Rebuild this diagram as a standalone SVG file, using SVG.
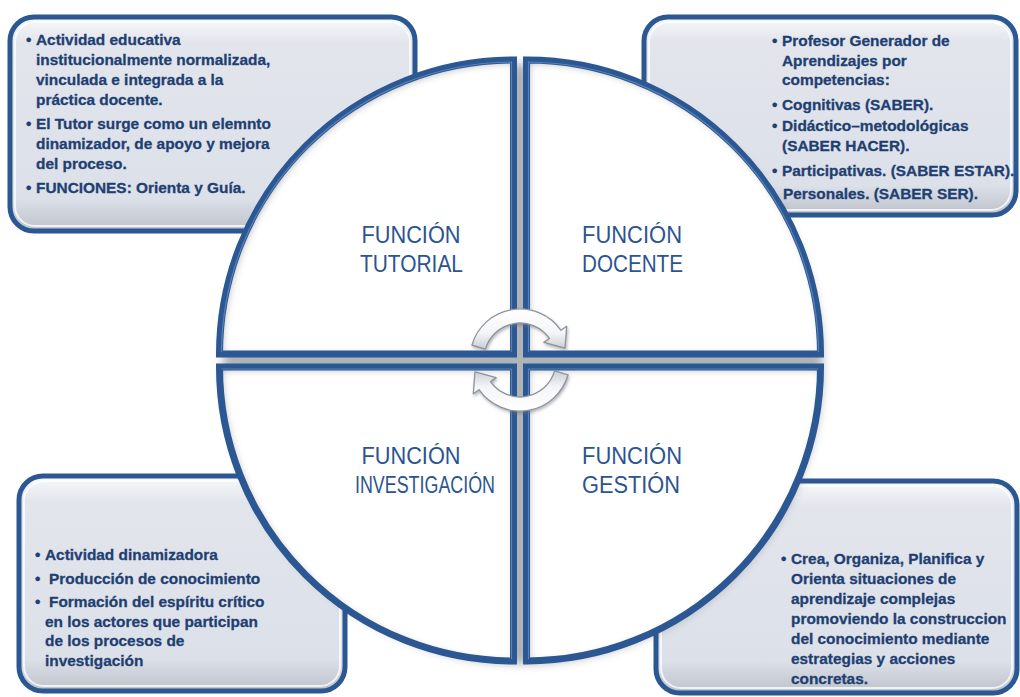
<svg xmlns="http://www.w3.org/2000/svg" width="1020" height="697" viewBox="0 0 1020 697">
<style>
.box{stroke:#2b5793;stroke-width:5;fill:url(#boxg)}
.hl{fill:none;stroke:#ffffff;stroke-width:2;opacity:.75}
.bt{font-family:"Liberation Sans",Arial,sans-serif;font-weight:bold;font-size:15.4px;fill:#1f3f72;stroke:#1f3f72;stroke-width:0.3}
.tt{font-family:"Liberation Sans",Arial,sans-serif;font-size:23px;fill:#2b5490;text-anchor:middle}
.pie{fill:#ffffff}
.edge{fill:none;stroke:#2b5793;stroke-width:7;stroke-linejoin:miter}
.edgehl{fill:none;stroke:#6f93c4;stroke-width:1.2;opacity:.7}
.arr{fill:url(#arrg);stroke:#8c939c;stroke-width:1.3;stroke-linejoin:round}
</style>
<defs>
<linearGradient id="boxg" x1="0" y1="0" x2="0" y2="1">
<stop offset="0" stop-color="#f8f9fb"/>
<stop offset="0.12" stop-color="#e2e5ec"/>
<stop offset="0.85" stop-color="#dce0e8"/>
<stop offset="1" stop-color="#bcc1cb"/>
</linearGradient>
<linearGradient id="arrg" x1="0" y1="0" x2="0" y2="1">
<stop offset="0" stop-color="#ffffff"/>
<stop offset="0.6" stop-color="#f4f5f7"/>
<stop offset="1" stop-color="#c9cdd3"/>
</linearGradient>
<filter id="inner" x="-10%" y="-10%" width="120%" height="120%">
<feFlood flood-color="#8e8e8e" result="f"/>
<feComposite in="f" in2="SourceAlpha" operator="out" result="o"/>
<feGaussianBlur in="o" stdDeviation="4" result="b"/>
<feOffset in="b" dx="2" dy="2" result="bo"/>
<feComposite in="bo" in2="SourceAlpha" operator="in" result="ins"/>
<feMerge><feMergeNode in="SourceGraphic"/><feMergeNode in="ins"/></feMerge>
</filter>
<filter id="shadow" x="-10%" y="-10%" width="120%" height="120%">
<feGaussianBlur stdDeviation="5"/>
</filter>
<filter id="ashadow" x="-30%" y="-30%" width="160%" height="160%">
<feDropShadow dx="1" dy="2" stdDeviation="1.5" flood-color="#6a6f78" flood-opacity="0.5"/>
</filter>
</defs>

<rect x="0" y="0" width="1020" height="697" fill="#ffffff"/>

<g id="box-tutorial">
<rect class="box" x="10" y="17" width="405" height="214" rx="24"/>
<rect class="hl" x="15" y="22" width="395" height="204" rx="20"/>
<text class="bt" x="26" y="45">•</text>
<text class="bt" x="36" y="45">Actividad educativa</text>
<text class="bt" x="36" y="65">institucionalmente normalizada,</text>
<text class="bt" x="36" y="85">vinculada e integrada a la</text>
<text class="bt" x="36" y="104.5">práctica docente.</text>
<text class="bt" x="26" y="129">•</text>
<text class="bt" x="36" y="129">El Tutor surge como un elemnto</text>
<text class="bt" x="36" y="149">dinamizador, de apoyo y mejora</text>
<text class="bt" x="36" y="168.5">del proceso.</text>
<text class="bt" x="26" y="192.5">•</text>
<text class="bt" x="36" y="192.5">FUNCIONES: Orienta y Guía.</text>
</g>

<g id="box-docente">
<rect class="box" x="644" y="17" width="372" height="198" rx="24"/>
<rect class="hl" x="649" y="22" width="362" height="188" rx="20"/>
<text class="bt" x="772" y="45.5">•</text>
<text class="bt" x="782" y="45.5">Profesor Generador de</text>
<text class="bt" x="782" y="65.5">Aprendizajes por</text>
<text class="bt" x="782" y="85">competencias:</text>
<text class="bt" x="772" y="110">•</text>
<text class="bt" x="782" y="110">Cognitivas (SABER).</text>
<text class="bt" x="772" y="131">•</text>
<text class="bt" x="782" y="131">Didáctico–metodológicas</text>
<text class="bt" x="782" y="151">(SABER HACER).</text>
<text class="bt" x="772" y="175.5">•</text>
<text class="bt" x="782" y="175.5">Participativas. (SABER ESTAR).</text>
<text class="bt" x="783" y="199">Personales. (SABER SER).</text>
</g>

<g id="box-investigacion">
<rect class="box" x="19" y="476" width="326" height="215" rx="24"/>
<rect class="hl" x="24" y="481" width="316" height="205" rx="20"/>
<text class="bt" x="35" y="560">•</text>
<text class="bt" x="45" y="560">Actividad dinamizadora</text>
<text class="bt" x="35" y="583.5">•</text>
<text class="bt" x="49" y="583.5">Producción de conocimiento</text>
<text class="bt" x="35" y="607">•</text>
<text class="bt" x="49" y="607">Formación del espíritu crítico</text>
<text class="bt" x="45" y="627">en los actores que participan</text>
<text class="bt" x="45" y="646">de los procesos de</text>
<text class="bt" x="45" y="665.5">investigación</text>
</g>

<g id="box-gestion">
<rect class="box" x="656" y="481" width="361" height="212" rx="24"/>
<rect class="hl" x="661" y="486" width="351" height="202" rx="20"/>
<text class="bt" x="781" y="563.5">•</text>
<text class="bt" x="791" y="563.5">Crea, Organiza, Planifica y</text>
<text class="bt" x="791" y="583.5">Orienta situaciones de</text>
<text class="bt" x="791" y="603.5">aprendizaje complejas</text>
<text class="bt" x="791" y="623.5">promoviendo la construccion</text>
<text class="bt" x="791" y="643.5">del conocimiento mediante</text>
<text class="bt" x="791" y="663.5">estrategias y acciones</text>
<text class="bt" x="791" y="683.5">concretas.</text>
</g>

<circle cx="523" cy="364" r="300" fill="#555a62" opacity="0.45" filter="url(#shadow)"/>

<g id="q-tutorial">
<path class="pie" filter="url(#inner)" d="M513.5 354 L513.5 60 A294 294 0 0 0 219.5 354 Z"/>
<path class="edge" d="M513.5 354 L513.5 60 A294 294 0 0 0 219.5 354 Z"/>
<path class="edgehl" d="M511.5 352 L511.5 62 A292 292 0 0 0 221.5 352"/>
<text class="tt" x="411" y="243" textLength="99" lengthAdjust="spacingAndGlyphs">FUNCIÓN</text>
<text class="tt" x="411.5" y="272" textLength="103" lengthAdjust="spacingAndGlyphs">TUTORIAL</text>
</g>

<g id="q-docente">
<path class="pie" filter="url(#inner)" d="M526.5 354 L526.5 60 A294 294 0 0 1 820.5 354 Z"/>
<path class="edge" d="M526.5 354 L526.5 60 A294 294 0 0 1 820.5 354 Z"/>
<path class="edgehl" d="M528.5 352 L528.5 62 A292 292 0 0 1 818.5 352"/>
<text class="tt" x="632" y="243" textLength="100" lengthAdjust="spacingAndGlyphs">FUNCIÓN</text>
<text class="tt" x="632.5" y="272" textLength="101" lengthAdjust="spacingAndGlyphs">DOCENTE</text>
</g>

<g id="q-investigacion">
<path class="pie" filter="url(#inner)" d="M513.5 367 L219.5 367 A294 294 0 0 0 513.5 661 Z"/>
<path class="edge" d="M513.5 367 L219.5 367 A294 294 0 0 0 513.5 661 Z"/>
<path class="edgehl" d="M221.5 369 L511.5 369 L511.5 659"/>
<text class="tt" x="411" y="464" textLength="99" lengthAdjust="spacingAndGlyphs">FUNCIÓN</text>
<text class="tt" x="425" y="493" textLength="140" lengthAdjust="spacingAndGlyphs">INVESTIGACIÓN</text>
</g>

<g id="q-gestion">
<path class="pie" filter="url(#inner)" d="M526.5 367 L820.5 367 A294 294 0 0 1 526.5 661 Z"/>
<path class="edge" d="M526.5 367 L820.5 367 A294 294 0 0 1 526.5 661 Z"/>
<path class="edgehl" d="M818.5 369 L528.5 369 L528.5 659"/>
<text class="tt" x="632" y="464" textLength="100" lengthAdjust="spacingAndGlyphs">FUNCIÓN</text>
<text class="tt" x="631" y="493" textLength="98" lengthAdjust="spacingAndGlyphs">GESTIÓN</text>
</g>

<g id="connectors" filter="url(#ashadow)">
<path class="arr" d="M471.9 345.2 A50 50 0 0 1 561 330.3 L566.7 326.3 L565 348.2 L543.8 342.4 L549.5 338.4 A36 36 0 0 0 485.4 349.1 Z"/>
<path class="arr" transform="rotate(180 520 360)" d="M471.9 345.2 A50 50 0 0 1 561 330.3 L566.7 326.3 L565 348.2 L543.8 342.4 L549.5 338.4 A36 36 0 0 0 485.4 349.1 Z"/>
</g>
</svg>
